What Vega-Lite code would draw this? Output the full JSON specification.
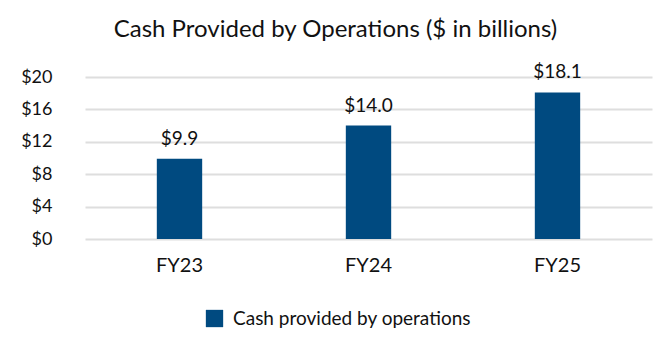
{
  "$schema": "https://vega.github.io/schema/vega-lite/v6.json",
  "autosize": "none",
  "width": 567,
  "height": 162,
  "padding": {"left": 85, "top": 77, "right": 20, "bottom": 115},
  "background": "white",
  "config": {"font": "Lato", "view": {"stroke": null}},
  "title": {
    "text": "Cash Provided by Operations ($ in billions)",
    "fontSize": 24,
    "fontWeight": "normal",
    "color": "#111111",
    "anchor": "middle",
    "dx": -33,
    "offset": 21
  },
  "data": {
    "values": [
      {"year": "FY23", "value": 9.9, "series": "Cash provided by operations"},
      {"year": "FY24", "value": 14.0, "series": "Cash provided by operations"},
      {"year": "FY25", "value": 18.1, "series": "Cash provided by operations"}
    ]
  },
  "encoding": {
    "x": {
      "field": "year",
      "type": "nominal",
      "scale": {"paddingInner": 0.76, "paddingOuter": 0.38},
      "axis": {
        "title": null,
        "labelAngle": 0,
        "labelFontSize": 20,
        "labelColor": "#111111",
        "labelPadding": 16,
        "domain": false,
        "ticks": false
      }
    },
    "y": {
      "field": "value",
      "type": "quantitative",
      "scale": {"domain": [0, 20]},
      "axis": {
        "title": null,
        "values": [0, 4, 8, 12, 16, 20],
        "labelExpr": "'$' + datum.value",
        "labelFontSize": 18,
        "labelColor": "#111111",
        "labelPadding": 33,
        "domain": false,
        "ticks": false,
        "gridColor": "#dedede",
        "gridWidth": 2
      }
    }
  },
  "layer": [
    {
      "mark": {"type": "bar", "color": "#004A80"},
      "encoding": {
        "color": {
          "field": "series",
          "type": "nominal",
          "scale": {"range": ["#004A80"]},
          "legend": {
            "title": null,
            "orient": "none",
            "legendX": 120,
            "legendY": 232,
            "symbolType": "square",
            "symbolSize": 300,
            "symbolStrokeWidth": 0,
            "labelFontSize": 19,
            "labelLimit": 400,
            "labelColor": "#111111",
            "labelOffset": 9
          }
        }
      }
    },
    {
      "mark": {"type": "text", "dy": -14, "baseline": "alphabetic", "fontSize": 19, "color": "#111111"},
      "encoding": {
        "text": {"field": "value", "type": "quantitative", "format": "$.1f"}
      }
    }
  ]
}
